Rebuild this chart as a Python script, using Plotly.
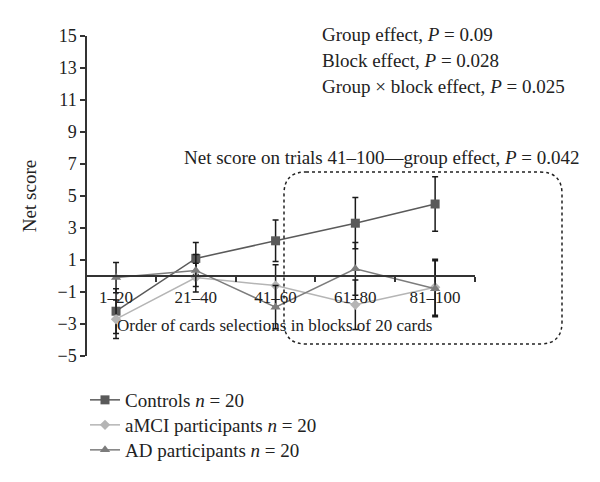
import plotly.graph_objects as go

blocks = ["1–20", "21–40", "41–60", "61–80", "81–100"]
controls = [-2.2, 1.1, 2.2, 3.3, 4.5]
controls_err = [1.4, 1.0, 1.3, 1.6, 1.7]
amci = [-2.7, -0.1, -0.6, -1.8, -0.7]
amci_err = [1.2, 0.9, 1.3, 1.55, 1.75]
ad = [-0.1, 0.35, -1.95, 0.45, -0.8]
ad_err = [0.95, 1.0, 1.35, 1.65, 1.75]

xs = list(range(len(blocks)))
FONT = "Liberation Serif"
OFF = 8  # page body margin
W, H = 600 - OFF, 482 - OFF
L, R, T, B = 87, 475, 36, 356  # plot area in screen pixels

def px(x):
    return (x - L) / (R - L)

def py(y):
    return (B - y) / (B - T)

fig = go.Figure()
series = [
    ("Controls <i>n</i> = 20", controls, controls_err, "#5a5a5a", "square", 9, "legend", 400),
    ("aMCI participants <i>n</i> = 20", amci, amci_err, "#b5b5b5", "diamond", 8, "legend2", 425),
    ("AD participants <i>n</i> = 20", ad, ad_err, "#7c7c7c", "triangle-up", 9, "legend3", 450),
]
legends = {}
for name, vals, err, col, sym, sz, lg, ly in series:
    fig.add_trace(go.Scatter(
        x=xs, y=vals, name=name, mode="lines+markers", legend=lg,
        line=dict(color=col, width=1.5),
        marker=dict(symbol=sym, size=sz, color=col),
        error_y=dict(type="data", array=err, visible=True, color="#1a1a1a", thickness=1.5, width=3),
    ))
    legends[lg] = dict(x=px(85), y=py(ly), xanchor="left", yanchor="middle",
                       font=dict(family=FONT, size=19, color="#222"),
                       bgcolor="rgba(0,0,0,0)", itemwidth=30)

fig.update_layout(
    width=W, height=H,
    margin=dict(l=L - OFF, r=W - (R - OFF), t=T - OFF, b=H - (B - OFF), autoexpand=False),
    paper_bgcolor="white", plot_bgcolor="white",
    font=dict(family=FONT, size=17, color="#222"),
    showlegend=True,
    **legends,
    xaxis=dict(range=[-0.364, 4.5], showgrid=False, zeroline=False,
               anchor="free", position=0.25, showline=True, linecolor="#333", linewidth=1.5,
               tickmode="array", tickvals=xs, ticktext=blocks, ticks="",
               ticklabelstandoff=6,
               tickfont=dict(family=FONT, size=17, color="#222"),
               minor=dict(tickmode="array", tickvals=[0.5, 1.5, 2.5, 3.5, 4.5], ticks="outside",
                          ticklen=5, tickcolor="#333", tickwidth=1.5, showgrid=False)),
    yaxis=dict(range=[-5, 15], tickmode="linear", tick0=-5, dtick=2, showgrid=False,
               zeroline=False, showline=True, linecolor="#333", linewidth=1.5,
               ticks="outside", ticklen=5, tickcolor="#333", tickwidth=1.5,
               tickfont=dict(family=FONT, size=18, color="#222"),
               title=dict(text="Net score", font=dict(family=FONT, size=19, color="#222"), standoff=16)),
)

# x-axis title
fig.add_annotation(x=px(274), y=py(325), xref="paper", yref="paper", showarrow=False,
                   xanchor="center", yanchor="middle",
                   text="Order of cards selections in blocks of 20 cards",
                   font=dict(family=FONT, size=17, color="#222"))

stats = ["Group effect, <i>P</i> = 0.09", "Block effect, <i>P</i> = 0.028",
         "Group × block effect, <i>P</i> = 0.025"]
for i, s in enumerate(stats):
    fig.add_annotation(x=px(320), y=py(35 + 25.5 * i), xref="paper", yref="paper",
                       xanchor="left", yanchor="middle", showarrow=False, text=s,
                       font=dict(family=FONT, size=19, color="#222"))
fig.add_annotation(x=px(182), y=py(157), xref="paper", yref="paper",
                   xanchor="left", yanchor="middle", showarrow=False,
                   text="Net score on trials 41–100—group effect, <i>P</i> = 0.042",
                   font=dict(family=FONT, size=19, color="#222"))

# dotted rounded box
x0, x1, y0, y1, r = 284, 562, 172, 344, 22
rx, ry = r / (R - L), r / (B - T)
X0, X1, Y0, Y1 = px(x0), px(x1), py(y1), py(y0)
path = (f"M {X0+rx},{Y1} L {X1-rx},{Y1} Q {X1},{Y1} {X1},{Y1-ry} "
        f"L {X1},{Y0+ry} Q {X1},{Y0} {X1-rx},{Y0} L {X0+rx},{Y0} "
        f"Q {X0},{Y0} {X0},{Y0+ry} L {X0},{Y1-ry} Q {X0},{Y1} {X0+rx},{Y1} Z")
fig.add_shape(type="path", path=path, xref="paper", yref="paper",
              line=dict(color="#222", width=1.5, dash="dot"))

fig.write_html("out.html")
